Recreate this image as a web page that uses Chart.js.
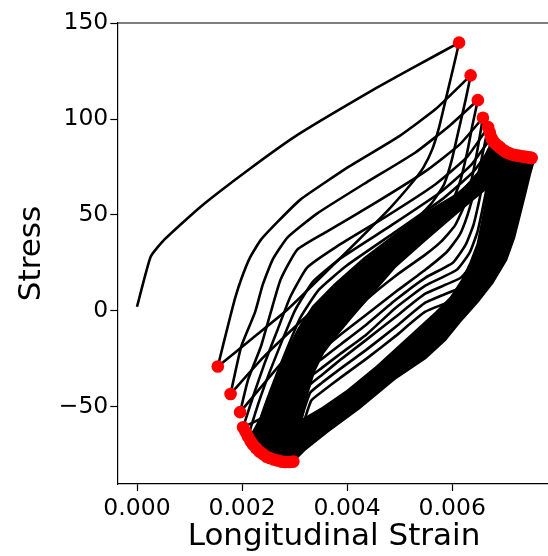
<!DOCTYPE html>
<html lang="en">
<head>
  <meta charset="UTF-8">
  <title>Stress vs Longitudinal Strain</title>
  <script src="https://cdn.jsdelivr.net/npm/chart.js"></script>
  <style>
    html, body { margin: 0; padding: 0; background: #fff; overflow: hidden; }
    canvas { display: block; }
  </style>
</head>
<body>
  <canvas id="hystChart" width="557" height="556"></canvas>

  <script>
    // [strain, stress] pairs
    const loading = [[0, 2.1], [0.00026, 28.2], [0.00052, 37.1], [0.00119, 53.8], [0.00213, 73.7], [0.00307, 92.0], [0.00451, 115.5], [0.0053, 127.5], [0.006131, 139.9]];

    const unload1 = [[0.006131, 139.9], [0.00605, 130.2], [0.0059, 112.9], [0.00575, 95.7], [0.00562, 84.2], [0.00545, 74.7], [0.00524, 66.9], [0.00479, 52.8], [0.0038, 25.6], [0.00286, 0.5], [0.00221, -14.1], [0.001538, -29.1]];
    const reload1 = [[0.001538, -29.1], [0.00164, -17.8], [0.00176, -4.7], [0.00187, 6.8], [0.00198, 16.2], [0.00215, 27.7], [0.00236, 37.1], [0.00268, 46.5], [0.00311, 58.0], [0.00404, 75.3], [0.00498, 90.9], [0.00568, 105.1], [0.006351, 122.8]];
    const unload2 = [[0.006351, 122.8], [0.006257, 110.3], [0.006126, 94.6], [0.005994, 78.9], [0.005844, 65.9], [0.005619, 56.5], [0.005301, 47.6], [0.004926, 38.7], [0.003988, 16.2], [0.003051, -7.3], [0.002394, -24.6], [0.001781, -43.4]];
    const reload2 = [[0.001781, -43.4], [0.001982, -18.8], [0.002244, -1.0], [0.002394, 13.6], [0.002582, 26.7], [0.002863, 38.2], [0.003426, 50.7], [0.004363, 66.9], [0.005301, 82.6], [0.005957, 96.7], [0.006488, 109.9]];
    const unload3 = [[0.006488, 109.9], [0.006388, 97.2], [0.006276, 81.5], [0.006144, 66.9], [0.005976, 55.4], [0.005732, 46.5], [0.005394, 38.7], [0.004926, 28.7], [0.004176, 11.0], [0.003426, -8.9], [0.002769, -26.7], [0.001963, -52.9]];
    const reload3 = [[0.001963, -52.9], [0.002113, -36.1], [0.002357, -18.8], [0.002544, -1.0], [0.002732, 16.2], [0.003051, 31.9], [0.003613, 41.3], [0.004551, 56.5], [0.005488, 72.7], [0.006144, 86.8], [0.006585, 100.7]];
    const unload4 = [[0.006585, 100.7], [0.006482, 84.2], [0.006369, 68.5], [0.006238, 55.4], [0.006051, 44.4], [0.005788, 36.1], [0.005488, 29.3], [0.004926, 18.3], [0.004363, 5.7], [0.003894, -7.3], [0.003519, -20.4], [0.003144, -38.7], [0.002676, -51.7], [0.002019, -60.8]];
    const reload4 = [[0.002019, -60.8], [0.002207, -45.0], [0.002432, -27.2], [0.002676, -9.9], [0.002919, 7.3], [0.003238, 22.5], [0.003801, 33.5], [0.004738, 49.1], [0.005676, 65.9], [0.006276, 80.0], [0.006684, 95.8]];
    const unload5 = [[0.006684, 95.8], [0.006557, 78.9], [0.006426, 63.2], [0.006294, 50.2], [0.006144, 39.7], [0.005901, 30.8], [0.005488, 21.4], [0.004926, 9.9], [0.004363, -2.1], [0.003894, -12.0], [0.003519, -20.4], [0.003163, -28.7], [0.002769, -49.1], [0.002113, -65.7]];
    const reload5 = [[0.002113, -65.7], [0.002301, -49.1], [0.002526, -31.9], [0.002769, -15.2], [0.003013, 0.5], [0.003351, 15.2], [0.003894, 27.7], [0.004832, 44.4], [0.005769, 61.7], [0.006351, 75.8], [0.006744, 90.4]];
    const unload6 = [[0.006744, 90.4], [0.006632, 73.7], [0.006519, 58.0], [0.006407, 45.0], [0.006257, 34.5], [0.006013, 25.1], [0.005488, 17.2], [0.004926, 5.7], [0.004363, -7.3], [0.003894, -17.2], [0.003519, -25.1], [0.003201, -31.9], [0.002863, -54.4], [0.002207, -69.8]];
    const reload6 = [[0.002207, -69.8], [0.002394, -52.8], [0.002619, -36.1], [0.002863, -19.3], [0.003107, -3.7], [0.003463, 11.0], [0.003988, 23.5], [0.004926, 41.3], [0.005826, 58.5], [0.006407, 72.7], [0.006801, 87.8]];
    const unload7 = [[0.006801, 87.8], [0.006707, 71.1], [0.006594, 55.4], [0.006482, 41.3], [0.006332, 30.3], [0.006088, 21.4], [0.005488, 13.1], [0.004926, 1.6], [0.004363, -12.5], [0.003894, -22.0], [0.003519, -29.8], [0.003238, -36.1], [0.002901, -61.2], [0.002263, -71.6]];
    const reload7 = [[0.002263, -71.6], [0.002469, -55.9], [0.002694, -39.7], [0.002938, -23.0], [0.003182, -7.3], [0.003557, 6.8], [0.004082, 19.3], [0.005001, 38.2], [0.005882, 55.9], [0.006463, 70.0], [0.006876, 86.0]];
    const unload8 = [[0.006876, 86.0], [0.006782, 68.5], [0.006669, 51.7], [0.006557, 37.1], [0.006407, 25.6], [0.006163, 17.2], [0.005488, 8.9], [0.004926, -3.1], [0.004363, -15.2], [0.003894, -25.1], [0.003519, -33.5], [0.003276, -39.2], [0.002938, -63.8], [0.002329, -73.4]];
    const reload8 = [[0.002329, -73.4], [0.002544, -59.1], [0.002769, -42.9], [0.003013, -26.1], [0.003257, -11.0], [0.003651, 3.1], [0.004176, 15.7], [0.005076, 35.5], [0.005938, 53.3], [0.006519, 67.4], [0.006951, 84.2]];
    const unload9 = [[0.006951, 84.2], [0.006857, 65.9], [0.006744, 47.6], [0.006632, 32.9], [0.006482, 21.4], [0.006238, 13.1], [0.005488, 4.2], [0.004926, -8.4], [0.004363, -20.4], [0.003894, -29.8], [0.003519, -37.6], [0.003294, -42.9], [0.002976, -66.4], [0.002394, -74.7]];
    const unload10 = [[0.007044, 82.6], [0.006951, 63.2], [0.006838, 43.4], [0.006726, 28.7], [0.006576, 17.2], [0.006313, 8.9], [0.005488, -0.5], [0.004926, -13.1], [0.004363, -25.1], [0.003894, -34.5], [0.003519, -42.3], [0.003313, -47.0], [0.003013, -69.5], [0.00246, -76.1]];

    // later cycles pile up into one solid band: its outline and the open lens inside it
    const bandOutline = [[0.002151, -66.4], [0.002338, -57.0], [0.002526, -45.5], [0.002713, -31.9], [0.002882, -20.4], [0.003069, -9.9], [0.003351, 2.1], [0.003763, 13.6], [0.004326, 27.2], [0.004926, 39.7], [0.005544, 51.7], [0.006182, 62.2], [0.006519, 72.7], [0.006688, 84.2], [0.006894, 85.7], [0.007176, 82.1], [0.007494, 80.5], [0.007551, 78.4], [0.007476, 71.1], [0.007382, 60.6], [0.007288, 50.2], [0.007176, 38.2], [0.007026, 26.7], [0.006763, 14.6], [0.006482, 4.7], [0.006144, -5.7], [0.005863, -15.2], [0.005488, -24.6], [0.004926, -35.0], [0.004232, -50.7], [0.003613, -63.2], [0.003182, -72.7], [0.002976, -78.4], [0.002769, -80.0], [0.002526, -77.9], [0.002338, -74.2], [0.002151, -70.0], [0.002151, -66.4]];
    const bandHole = [[0.003163, -55.9], [0.003257, -43.9], [0.003388, -31.9], [0.003557, -22.5], [0.003801, -13.6], [0.004101, -3.7], [0.004513, 9.4], [0.004926, 22.5], [0.005488, 36.1], [0.006107, 50.7], [0.006426, 58.0], [0.006651, 63.2], [0.006613, 55.4], [0.006538, 45.0], [0.006463, 35.0], [0.006332, 25.6], [0.006182, 16.7], [0.005957, 7.3], [0.005676, -0.5], [0.005301, -9.9], [0.004926, -19.3], [0.004551, -28.7], [0.003988, -41.3], [0.003519, -50.2], [0.003163, -55.9]];

    // turning points (red markers)
    const peaks = [[0.006131, 139.9], [0.006351, 122.8], [0.006488, 109.9], [0.006585, 100.7], [0.006684, 95.8], [0.006716, 93.0], [0.006744, 90.4], [0.006773, 88.9], [0.006801, 87.8], [0.006838, 86.8], [0.006876, 86.0], [0.006913, 85.2], [0.006951, 84.2], [0.006998, 83.4], [0.007044, 82.6], [0.007091, 82.1], [0.007138, 81.5], [0.007185, 81.3], [0.007232, 81.0], [0.007279, 80.8], [0.007326, 80.5], [0.007373, 80.5], [0.007419, 80.2], [0.007457, 80.0], [0.007494, 80.0], [0.007513, 79.7]];
    const valleys = [[0.001538, -29.1], [0.001781, -43.4], [0.001963, -52.9], [0.002019, -60.8], [0.002066, -63.2], [0.002113, -65.7], [0.00216, -68.0], [0.002207, -69.8], [0.002263, -71.6], [0.002329, -73.4], [0.002394, -74.7], [0.00246, -76.1], [0.002526, -76.8], [0.002601, -77.6], [0.002676, -78.1], [0.002751, -78.7], [0.002826, -78.9], [0.002901, -78.9], [0.002976, -78.7]];

    const xTicks = [0, 0.002, 0.004, 0.006];
    const yTicks = [-50, 0, 50, 100, 150];

    const curves = [loading, unload1, reload1, unload2, reload2, unload3, reload3, unload4, reload4,
      unload5, reload5, unload6, reload6, unload7, reload7, unload8, reload8, unload9, unload10];

    const toXY = arr => arr.map(p => ({ x: p[0], y: p[1] }));
    const FONT = 'DejaVu Sans';

    const datasets = [];
    datasets.push({
      data: toXY(peaks.concat(valleys)),
      showLine: false,
      pointRadius: 6.3,
      pointBackgroundColor: '#ff0000',
      pointBorderWidth: 0,
      order: 0
    });
    curves.forEach(c => {
      datasets.push({
        data: toXY(c),
        showLine: true,
        borderColor: '#000',
        borderWidth: 2.6,
        pointRadius: 0,
        tension: 0.15,
        fill: false,
        order: 1
      });
    });
    datasets.push({
      data: toXY(bandHole),
      showLine: true,
      borderWidth: 0,
      borderColor: 'rgba(0,0,0,0)',
      backgroundColor: '#fff',
      pointRadius: 0,
      fill: 'shape',
      order: 2
    });
    datasets.push({
      data: toXY(bandOutline),
      showLine: true,
      borderWidth: 2.6,
      borderColor: '#000',
      backgroundColor: '#000',
      pointRadius: 0,
      fill: 'shape',
      order: 3
    });

    // top spine like matplotlib
    const topSpine = {
      id: 'topSpine',
      afterDraw(chart) {
        const { ctx, chartArea } = chart;
        ctx.save();
        ctx.strokeStyle = '#000';
        ctx.lineWidth = 1.2;
        ctx.beginPath();
        ctx.moveTo(chartArea.left, chartArea.top);
        ctx.lineTo(chartArea.right, chartArea.top);
        ctx.stroke();
        ctx.restore();
      }
    };

    new Chart(document.getElementById('hystChart').getContext('2d'), {
      type: 'scatter',
      data: { datasets: datasets },
      plugins: [topSpine],
      options: {
        responsive: false,
        animation: false,
        layout: { padding: { top: 23, right: 0, left: 0, bottom: 0 } },
        plugins: { legend: { display: false }, tooltip: { enabled: false } },
        scales: {
          x: {
            type: 'linear',
            min: -0.000375,
            max: 0.007875,
            afterFit: s => { s.height = 72; },
            afterBuildTicks: s => { s.ticks = xTicks.map(v => ({ value: v })); },
            grid: { drawOnChartArea: false, drawTicks: true, tickLength: 7, tickColor: '#000', tickWidth: 1.2 },
            border: { display: true, color: '#000', width: 1.2 },
            ticks: {
              padding: 4,
              color: '#000',
              font: { family: FONT, size: 23.5 },
              maxRotation: 0,
              callback: v => Number(v).toFixed(3)
            },
            title: {
              display: true,
              text: 'Longitudinal Strain',
              color: '#000',
              font: { family: FONT, size: 31 },
              padding: { top: 0, bottom: 0 }
            }
          },
          y: {
            type: 'linear',
            min: -90.4,
            max: 150.15,
            afterFit: s => { s.width = 117.3; },
            afterBuildTicks: s => { s.ticks = yTicks.map(v => ({ value: v })); },
            grid: { drawOnChartArea: false, drawTicks: true, tickLength: 7, tickColor: '#000', tickWidth: 1.2 },
            border: { display: true, color: '#000', width: 1.2 },
            ticks: {
              padding: 2,
              color: '#000',
              font: { family: FONT, size: 23.5 },
              callback: v => (v < 0 ? '\u2212' + Math.abs(v) : String(v))
            },
            title: {
              display: true,
              text: 'Stress',
              color: '#000',
              font: { family: FONT, size: 31 },
              padding: { top: 13, bottom: 0 }
            }
          }
        }
      }
    });
  </script>
</body>
</html>
